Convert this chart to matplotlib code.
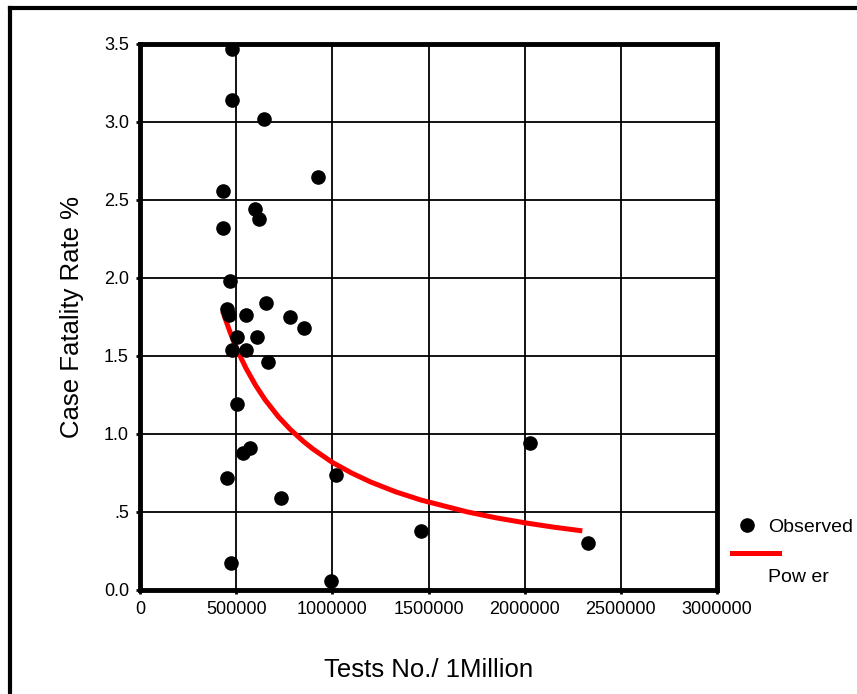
import matplotlib
matplotlib.use('Agg')
import numpy as np
import matplotlib.pyplot as plt
from matplotlib.lines import Line2D

plt.rcParams['font.family'] = ['Liberation Sans', 'DejaVu Sans']

# observed points
tests = [478000, 478000, 645000, 925000, 431000, 598000, 619000, 431000,
         468000, 655000, 452000, 463000, 551000, 780000, 852000, 504000,
         608000, 478000, 551000, 665000, 504000, 535000, 572000, 452000,
         733000, 1019000, 1460000, 473000, 993000, 2027000, 2328000]
cfr = [3.47, 3.14, 3.02, 2.65, 2.56, 2.44, 2.38, 2.32,
       1.98, 1.84, 1.80, 1.76, 1.76, 1.75, 1.68, 1.62,
       1.62, 1.54, 1.54, 1.46, 1.19, 0.88, 0.91, 0.72,
       0.59, 0.74, 0.38, 0.17, 0.06, 0.94, 0.30]

# power trend line
fit_x = [430000, 460000, 480000, 510000, 550000, 600000, 650000, 720000,
         780000, 850000, 900000, 1000000, 1100000, 1200000, 1330000,
         1460000, 1700000, 1850000, 2000000, 2150000, 2300000]
fit_y = [1.785, 1.681, 1.615, 1.527, 1.424, 1.314, 1.220, 1.110,
         1.031, 0.952, 0.903, 0.818, 0.750, 0.692, 0.629,
         0.577, 0.501, 0.463, 0.431, 0.403, 0.379]

x_ticks = [0, 500000, 1000000, 1500000, 2000000, 2500000, 3000000]
y_ticks = [0.0, 0.5, 1.0, 1.5, 2.0, 2.5, 3.0, 3.5]
y_labels = ['0.0', '.5', '1.0', '1.5', '2.0', '2.5', '3.0', '3.5']

fig = plt.figure(figsize=(8.57, 6.94), dpi=100)
ax = fig.add_axes([140/857, 1-590/694, 577/857, 546/694])

ax.grid(True, color='black', linewidth=1.3)
ax.set_axisbelow(True)
ax.plot(fit_x, fit_y, color='#ff0000', linewidth=3.6, solid_capstyle='butt', zorder=2)
ax.scatter(tests, cfr, s=90, color='black', zorder=3)

ax.set_xlim(0, 3000000)
ax.set_ylim(0, 3.5)
ax.set_xticks(x_ticks)
ax.set_xticklabels([str(t) for t in x_ticks])
ax.set_yticks(y_ticks)
ax.set_yticklabels(y_labels)
ax.tick_params(axis='both', labelsize=13, length=3, width=2, direction='out')
ax.tick_params(axis='x', pad=5)
ax.tick_params(axis='y', pad=5)
for s in ax.spines.values():
    s.set_linewidth(3.5)

ax.set_ylabel('Case Fatality Rate %', fontsize=18.5, labelpad=14)
ax.set_xlabel('Tests No./ 1Million', fontsize=18.5, labelpad=29)

# legend drawn by hand, outside the axes
fig.add_artist(Line2D([747/857], [1-525/694], marker='o', markersize=9.5,
                      color='black', linestyle='none'))
fig.text(768/857, 1-528/694, 'Observed', fontsize=14, va='center')
fig.add_artist(Line2D([732/857, 779/857], [1-553/694, 1-553/694],
                      color='#ff0000', linewidth=3.6))
fig.text(768/857, 1-578/694, 'Pow er', fontsize=14, va='center')

# outer frame (left and top edges)
fig.add_artist(Line2D([10/857, 10/857], [0, 1-8/694], color='black', linewidth=3))
fig.add_artist(Line2D([10/857, 1], [1-8/694, 1-8/694], color='black', linewidth=3))

fig.savefig('out.png', dpi=100)
